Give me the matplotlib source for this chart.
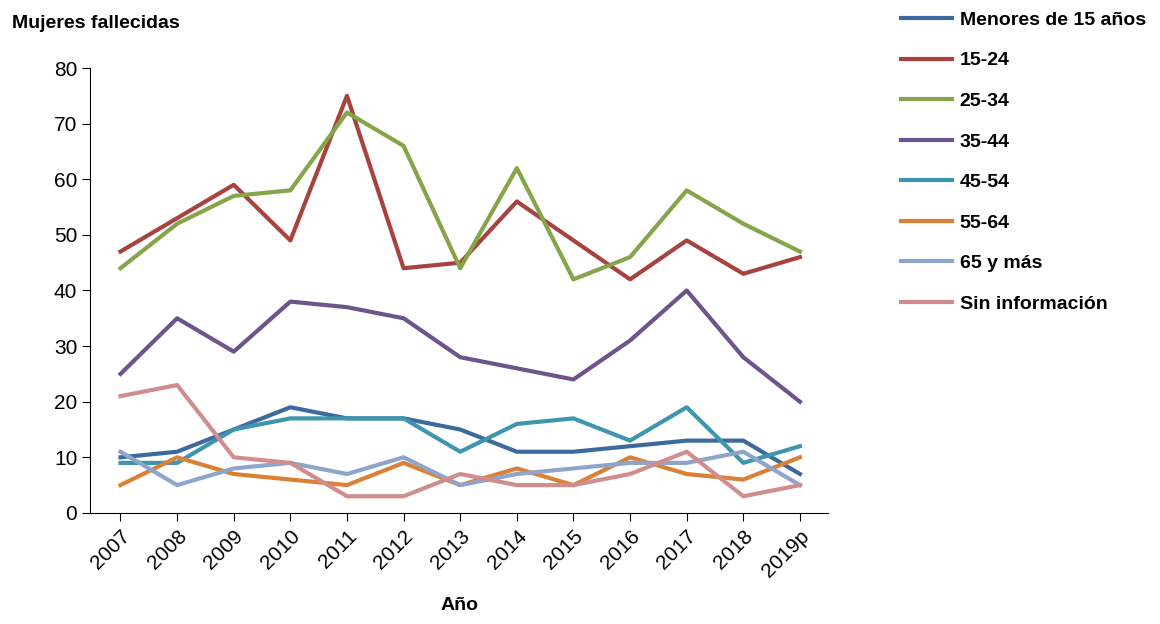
import matplotlib
matplotlib.use("Agg")
import matplotlib.pyplot as plt

years = ["2007", "2008", "2009", "2010", "2011", "2012", "2013",
         "2014", "2015", "2016", "2017", "2018", "2019p"]

menores_15 = [10, 11, 15, 19, 17, 17, 15, 11, 11, 12, 13, 13, 7]
g15_24 = [47, 53, 59, 49, 75, 44, 45, 56, 49, 42, 49, 43, 46]
g25_34 = [44, 52, 57, 58, 72, 66, 44, 62, 42, 46, 58, 52, 47]
g35_44 = [25, 35, 29, 38, 37, 35, 28, 26, 24, 31, 40, 28, 20]
g45_54 = [9, 9, 15, 17, 17, 17, 11, 16, 17, 13, 19, 9, 12]
g55_64 = [5, 10, 7, 6, 5, 9, 5, 8, 5, 10, 7, 6, 10]
g65_mas = [11, 5, 8, 9, 7, 10, 5, 7, 8, 9, 9, 11, 5]
sin_info = [21, 23, 10, 9, 3, 3, 7, 5, 5, 7, 11, 3, 5]

series = [
    ("Menores de 15 años", menores_15, "#3d6a9e"),
    ("15-24", g15_24, "#a8423f"),
    ("25-34", g25_34, "#86a44a"),
    ("35-44", g35_44, "#6e548d"),
    ("45-54", g45_54, "#3d96ae"),
    ("55-64", g55_64, "#da8137"),
    ("65 y más", g65_mas, "#8ea5cb"),
    ("Sin información", sin_info, "#cf8e8d"),
]

plt.rcParams["font.family"] = ["Liberation Sans Narrow", "Liberation Sans", "DejaVu Sans"]

fig = plt.figure(figsize=(11.6, 6.24), dpi=100)
ax = fig.add_axes([0.078, 0.178, 0.636, 0.713])

x = list(range(len(years)))
for label, vals, color in series:
    ax.plot(x, vals, color=color, linewidth=3, label=label)

ax.set_xlim(-0.53, 12.5)
ax.set_ylim(0, 80)
ax.set_yticks(range(0, 81, 10))
ax.set_xticks(x)
ax.set_xticklabels(years, rotation=45, ha="right", rotation_mode="anchor")
ax.tick_params(labelsize=15, direction="out", length=6)
for s in ["top", "right"]:
    ax.spines[s].set_visible(False)

ax.set_xlabel("Año", fontsize=14, fontweight="bold", labelpad=12)
fig.text(0.01, 0.955, "Mujeres fallecidas", fontsize=14, fontweight="bold")

fig.legend(loc="upper left", bbox_to_anchor=(0.762, 1.01), frameon=False,
           prop={"size": 14, "weight": "bold"}, handlelength=2.6,
           handletextpad=0.4, labelspacing=1.18)

fig.savefig("out.png", dpi=100)
